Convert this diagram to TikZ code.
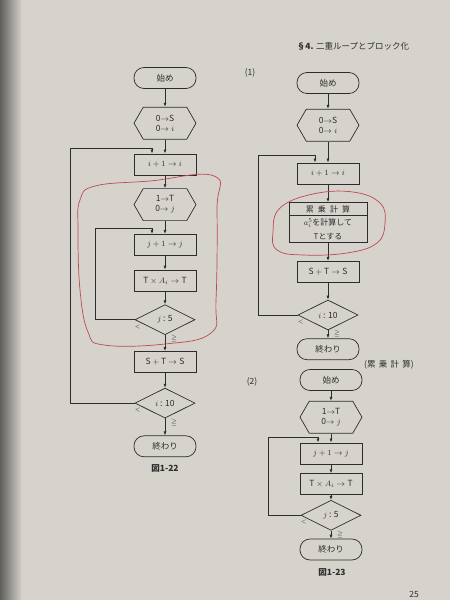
\documentclass[tikz,border=0pt]{standalone}
\usepackage{amsmath,amssymb}
\usepackage{fontspec}
\newfontfamily\jpfont{Noto Sans CJK JP}
\usepackage{tikz}
\usetikzlibrary{positioning,shapes.geometric,shapes.symbols,shapes.multipart,arrows.meta}
\definecolor{paper}{RGB}{214,211,204}
\definecolor{ink}{RGB}{45,45,45}
\definecolor{redpen}{RGB}{192,72,84}

\begin{document}
\begin{tikzpicture}[
  x=1pt, y=-1pt,
  font=\jpfont\fontsize{8.5}{10}\selectfont, color=ink,
  term/.style={draw, rounded corners=10pt, minimum width=62pt,
    minimum height=21pt, inner sep=1pt},
  box/.style={draw, minimum width=62pt, minimum height=21pt, inner sep=1pt},
  hexa/.style={draw, signal, signal to=east and west, signal pointer angle=120,
    minimum width=62pt, minimum height=32pt, inner sep=1pt, align=center},
  dec/.style={draw, diamond, aspect=2, minimum width=60pt, minimum height=30pt,
    inner sep=0pt},
  blk/.style={draw, rectangle split, rectangle split parts=2, text width=74pt,
    align=center, inner xsep=2pt, inner ysep=2.5pt},
  arr/.style={-{Latex[length=4pt,width=3pt]}, line width=0.7pt},
  pen/.style={redpen, line width=0.7pt},
  lbl/.style={font=\fontsize{6.5}{7}\selectfont},
  capt/.style={font=\jpfont\bfseries\fontsize{8.5}{10}\selectfont},
  every node/.append style={line width=0.7pt},
]
% paper
\useasboundingbox (0,0) rectangle (450,600);
\fill[paper] (0,0) rectangle (450,600);
\shade[left color=black!55!paper, right color=paper] (0,0) rectangle (22,600);

\node[font=\jpfont\fontsize{8.5}{10}\selectfont] (hdr) at (353,46) {\textbf{§4.} 二重ループとブロック化};

% figure 1-22
\node[term] (st1) at (165,78) {始め};
\node[hexa, below=18pt of st1] (ini1) {0$\to$S\\0$\to i$};
\node[box, below=14pt of ini1] (inci1) {$i+1\to i$};
\node[hexa, below=13pt of inci1] (initj1) {1$\to$T\\0$\to j$};
\node[box, below=13pt of initj1] (incj1) {$j+1\to j$};
\node[box, below=14pt of incj1] (mul1) {T${}\times A_i\to{}$T};
\node[dec, below=13pt of mul1] (tj1) {$j$ : 5};
\node[box, below=16pt of tj1] (add1) {S${}+{}$T${}\to{}$S};
\node[dec, below=15pt of add1] (ti1) {$i$ : 10};
\node[term, below=17pt of ti1] (en1) {終わり};
\node[capt, below=4pt of en1] (cap1) {図1-22};

\draw[arr] (st1.south) -- (ini1.north);
\draw[arr] (ini1.south) -- (inci1.north);
\draw[arr] (inci1.south) -- (initj1.north);
\draw[arr] (initj1.south) -- (incj1.north);
\draw[arr] (incj1.south) -- (mul1.north);
\draw[arr] (mul1.south) -- (tj1.north);
\draw[arr] (tj1.south) -- (add1.north);
\draw[arr] (add1.south) -- (ti1.north);
\draw[arr] (ti1.south) -- (en1.north);
\coordinate (lpa) at (95,228);
\draw[arr] (tj1.west) -| (lpa) -| ([xshift=-13pt]incj1.north);
\coordinate (lpb) at (70,148);
\draw[arr] (ti1.west) -| (lpb) -| ([xshift=-13pt]inci1.north);
\node[lbl] (lt1) at ([xshift=3pt,yshift=-7pt]tj1.west) {$<$};
\node[lbl] (ge1) at ([xshift=9pt,yshift=-4pt]tj1.south) {$\geqq$};
\node[lbl] (lt2) at ([xshift=3pt,yshift=-7pt]ti1.west) {$<$};
\node[lbl] (ge2) at ([xshift=9pt,yshift=-4pt]ti1.south) {$\geqq$};

% red pen round the inner loop
\draw[pen] plot[smooth cycle, tension=0.7] coordinates {(80,200) (95,186)
  (150,181) (214,176) (217,210) (216,300) (211,333) (165,344) (104,345)
  (88,332) (80,290) (78,230)};

% figure 1-23 (1)
\node (no1) at (250,73) {(1)};
\node[term] (st2) at (328,83) {始め};
\node[hexa, below=15pt of st2] (ini2) {0$\to$S\\0$\to i$};
\node[box, below=21pt of ini2] (inci2) {$i+1\to i$};
\node[blk, below=18pt of inci2] (calc2) {\fontsize{8}{9}\selectfont 累\,\ 乗\,\ 計\,\ 算\nodepart{two}\fontsize{8}{10}\selectfont$a_i^5$を計算して\\[4pt]Tとする};
\node[box, below=18pt of calc2] (add2) {S${}+{}$T${}\to{}$S};
\node[dec, below=17pt of add2] (ti2) {$i$ : 10};
\node[term, below=8pt of ti2] (en2) {終わり};
\node (sub2) at (389,365) {(累\,\ 乗\,\ 計\,\ 算)};

\draw[arr] (st2.south) -- (ini2.north);
\draw[arr] (ini2.south) -- (inci2.north);
\draw[arr] (inci2.south) -- (calc2.north);
\draw[arr] (calc2.south) -- (add2.north);
\draw[arr] (add2.south) -- (ti2.north);
\draw[arr] (ti2.south) -- (en2.north);
\coordinate (lpc) at (258,155);
\draw[arr] (ti2.west) -| (lpc) -| ([xshift=-13pt]inci2.north);
\node[lbl] (lt3) at ([xshift=3pt,yshift=-7pt]ti2.west) {$<$};
\node[lbl] (ge3) at ([xshift=9pt,yshift=-4pt]ti2.south) {$\geqq$};

% red pen round the block
\draw[pen] plot[smooth cycle, tension=0.7] coordinates {(273,232) (280,208)
  (313,194) (353,192) (380,203) (385,223) (377,243) (347,253) (303,255)
  (277,250)};

% figure 1-23 (2)
\node (no2) at (252,382) {(2)};
\node[term] (st3) at (331,380) {始め};
\node[hexa, below=10pt of st3] (initj3) {1$\to$T\\0$\to j$};
\node[box, below=9pt of initj3] (incj3) {$j+1\to j$};
\node[box, below=9pt of incj3] (mul3) {T${}\times A_i\to{}$T};
\node[dec, below=5pt of mul3] (tj3) {$j$ : 5};
\node[term, below=8pt of tj3] (en3) {終わり};
\node[capt] (cap3) at (332,572) {図1-23};

\draw[arr] (st3.south) -- (initj3.north);
\draw[arr] (initj3.south) -- (incj3.north);
\draw[arr] (incj3.south) -- (mul3.north);
\draw[arr] (mul3.south) -- (tj3.north);
\draw[arr] (tj3.south) -- (en3.north);
\coordinate (lpd) at (268,437);
\draw[arr] (tj3.west) -| (lpd) -| ([xshift=-13pt]incj3.north);
\node[lbl] (lt4) at ([xshift=3pt,yshift=-7pt]tj3.west) {$<$};
\node[lbl] (ge4) at ([xshift=9pt,yshift=-4pt]tj3.south) {$\geqq$};

\node (pg) at (414,594) {25};
\end{tikzpicture}
\end{document}
